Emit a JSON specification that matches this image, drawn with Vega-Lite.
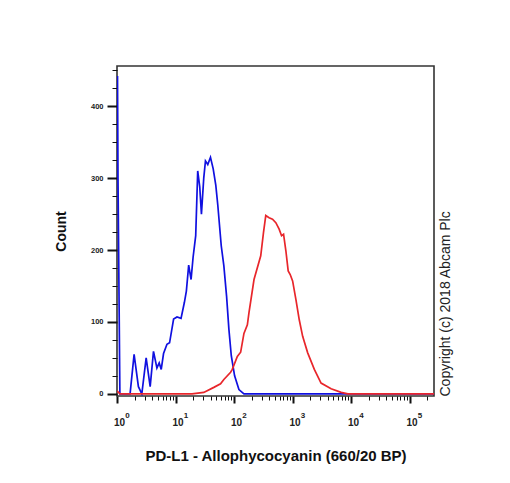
{
  "$schema": "https://vega.github.io/schema/vega-lite/v6.json",
  "width": 317,
  "height": 330,
  "autosize": "none",
  "padding": {"left": 117, "top": 66, "right": 76, "bottom": 87},
  "background": "white",
  "config": {
    "view": {"stroke": "#333333", "strokeWidth": 1.6},
    "font": "Liberation Sans"
  },
  "data": {
    "values": [
      {"series": "blue", "x": 1.02, "count": 442},
      {"series": "blue", "x": 1.04, "count": 300},
      {"series": "blue", "x": 1.12, "count": 0},
      {"series": "blue", "x": 1.283, "count": 0},
      {"series": "blue", "x": 1.673, "count": 0},
      {"series": "blue", "x": 1.96, "count": 55},
      {"series": "blue", "x": 2.323, "count": 10},
      {"series": "blue", "x": 2.657, "count": 0},
      {"series": "blue", "x": 3.15, "count": 50},
      {"series": "blue", "x": 3.69, "count": 10},
      {"series": "blue", "x": 4.205, "count": 59},
      {"series": "blue", "x": 4.81, "count": 36},
      {"series": "blue", "x": 5.268, "count": 43},
      {"series": "blue", "x": 5.702, "count": 34},
      {"series": "blue", "x": 6.245, "count": 56},
      {"series": "blue", "x": 7.145, "count": 69},
      {"series": "blue", "x": 7.916, "count": 71},
      {"series": "blue", "x": 9.277, "count": 104},
      {"series": "blue", "x": 10.61, "count": 107},
      {"series": "blue", "x": 12.43, "count": 105},
      {"series": "blue", "x": 14.17, "count": 127},
      {"series": "blue", "x": 15.33, "count": 143},
      {"series": "blue", "x": 16.8, "count": 179},
      {"series": "blue", "x": 18.46, "count": 159},
      {"series": "blue", "x": 19.98, "count": 190},
      {"series": "blue", "x": 22.15, "count": 220},
      {"series": "blue", "x": 23.97, "count": 310},
      {"series": "blue", "x": 25.95, "count": 288},
      {"series": "blue", "x": 27.75, "count": 250},
      {"series": "blue", "x": 30.39, "count": 300},
      {"series": "blue", "x": 32.51, "count": 324},
      {"series": "blue", "x": 35.6, "count": 319},
      {"series": "blue", "x": 39.62, "count": 329},
      {"series": "blue", "x": 44.09, "count": 313},
      {"series": "blue", "x": 48.87, "count": 290},
      {"series": "blue", "x": 52.9, "count": 262},
      {"series": "blue", "x": 60.5, "count": 206},
      {"series": "blue", "x": 67.08, "count": 178},
      {"series": "blue", "x": 74.64, "count": 136},
      {"series": "blue", "x": 81.75, "count": 90},
      {"series": "blue", "x": 89.86, "count": 53},
      {"series": "blue", "x": 102.4, "count": 25},
      {"series": "blue", "x": 121.4, "count": 6},
      {"series": "blue", "x": 147.9, "count": 0},
      {"series": "blue", "x": 1000, "count": 0},
      {"series": "blue", "x": 10000, "count": 0},
      {"series": "blue", "x": 262144, "count": 0},
      {"series": "red", "x": 1.0, "count": 4},
      {"series": "red", "x": 1.13, "count": 0},
      {"series": "red", "x": 19.2, "count": 0},
      {"series": "red", "x": 30.4, "count": 2},
      {"series": "red", "x": 45.2, "count": 9},
      {"series": "red", "x": 58.9, "count": 14},
      {"series": "red", "x": 67.1, "count": 20},
      {"series": "red", "x": 87.4, "count": 30},
      {"series": "red", "x": 93.5, "count": 34},
      {"series": "red", "x": 114, "count": 52},
      {"series": "red", "x": 129.9, "count": 58},
      {"series": "red", "x": 147.9, "count": 84},
      {"series": "red", "x": 169.2, "count": 96},
      {"series": "red", "x": 180.3, "count": 113},
      {"series": "red", "x": 219.8, "count": 159},
      {"series": "red", "x": 286.4, "count": 192},
      {"series": "red", "x": 318.6, "count": 224},
      {"series": "red", "x": 349.1, "count": 248},
      {"series": "red", "x": 397.9, "count": 245},
      {"series": "red", "x": 455, "count": 243},
      {"series": "red", "x": 518.6, "count": 238},
      {"series": "red", "x": 590.9, "count": 229},
      {"series": "red", "x": 649.6, "count": 220},
      {"series": "red", "x": 703.3, "count": 222},
      {"series": "red", "x": 770.2, "count": 199},
      {"series": "red", "x": 843.8, "count": 171},
      {"series": "red", "x": 912.9, "count": 166},
      {"series": "red", "x": 1004, "count": 157},
      {"series": "red", "x": 1144, "count": 131},
      {"series": "red", "x": 1304, "count": 103},
      {"series": "red", "x": 1491, "count": 80},
      {"series": "red", "x": 1818, "count": 57},
      {"series": "red", "x": 2360, "count": 34},
      {"series": "red", "x": 3076, "count": 15},
      {"series": "red", "x": 4568, "count": 7},
      {"series": "red", "x": 6784, "count": 2},
      {"series": "red", "x": 8846, "count": 0},
      {"series": "red", "x": 262144, "count": 0}
    ]
  },
  "encoding": {
    "y": {
      "field": "count",
      "type": "quantitative",
      "scale": {"domain": [-3, 456], "nice": false, "zero": false}
    },
    "color": {
      "field": "series",
      "type": "nominal",
      "scale": {"domain": ["blue", "red"], "range": ["#1010e0", "#e8262b"]},
      "legend": null
    }
  },
  "layer": [
    {
      "transform": [{"filter": "datum.series == 'blue'"}],
      "mark": {"type": "line", "strokeWidth": 1.7, "interpolate": "linear", "clip": true},
      "encoding": {
        "x": {
          "field": "x",
          "type": "quantitative",
          "scale": {"type": "log", "domain": [1, 262144], "nice": false},
          "axis": {
            "orient": "bottom",
            "title": "PD-L1 - Allophycocyanin (660/20 BP)",
            "titleFontSize": 15,
            "titleFontWeight": "bold",
            "titleColor": "#111111",
            "titlePadding": 21,
            "domain": false,
            "grid": false,
            "values": [1,2,3,4,5,6,7,8,9,10,20,30,40,50,60,70,80,90,100,200,300,400,500,600,700,800,900,1000,2000,3000,4000,5000,6000,7000,8000,9000,10000,20000,30000,40000,50000,60000,70000,80000,90000,100000,200000],
            "labelExpr": "indexof([1,10,100,1000,10000,100000], datum.value) >= 0 ? '10' : ''",
            "labelFontSize": 10,
            "labelFontWeight": "bold",
            "labelColor": "#222222",
            "labelAlign": "center",
            "labelBaseline": "top",
            "labelPadding": 14,
            "labelOffset": 2,
            "labelFlush": false,
            "labelOverlap": false,
            "tickColor": "#111111",
            "tickSize": {"condition": {"test": "indexof([1,10,100,1000,10000,100000], datum.value) >= 0", "value": 7}, "value": 4},
            "tickWidth": {"condition": {"test": "indexof([1,10,100,1000,10000,100000], datum.value) >= 0", "value": 2}, "value": 1}
          }
        },
        "y": {
          "field": "count",
          "type": "quantitative",
          "axis": {
            "orient": "left",
            "title": "Count",
            "titleFontSize": 14,
            "titleFontWeight": "bold",
            "titleColor": "#111111",
            "titlePadding": 22,
            "domain": false,
            "grid": false,
            "values": [0,25,50,75,100,125,150,175,200,225,250,275,300,325,350,375,400,425,450],
            "labelExpr": "datum.value % 100 == 0 ? datum.label : ''",
            "labelFontSize": 7.5,
            "labelFontWeight": "bold",
            "labelColor": "#222222",
            "labelPadding": 4,
            "tickColor": "#111111",
            "tickSize": {"condition": {"test": "datum.value % 100 == 0", "value": 10}, "value": 5},
            "tickWidth": {"condition": {"test": "datum.value % 100 == 0", "value": 2}, "value": 1}
          }
        }
      }
    },
    {
      "transform": [{"filter": "datum.series == 'red'"}],
      "mark": {"type": "line", "strokeWidth": 1.7, "interpolate": "linear", "clip": true},
      "encoding": {
        "x": {
          "field": "x",
          "type": "quantitative",
          "axis": {
            "orient": "bottom",
            "title": null,
            "domain": false,
            "grid": false,
            "ticks": false,
            "tickSize": 0,
            "values": [1, 10, 100, 1000, 10000, 100000],
            "labelExpr": "datum.value == 1 ? '0' : datum.value == 10 ? '1' : datum.value == 100 ? '2' : datum.value == 1000 ? '3' : datum.value == 10000 ? '4' : '5'",
            "labelFontSize": 8,
            "labelFontWeight": "bold",
            "labelColor": "#222222",
            "labelAlign": "center",
            "labelBaseline": "top",
            "labelPadding": 15,
            "labelOffset": 10,
            "labelFlush": false,
            "labelOverlap": false
          }
        },
        "y": {
          "field": "count",
          "type": "quantitative",
          "axis": {
            "orient": "right",
            "title": "Copyright (c) 2018 Abcam Plc",
            "titleFontSize": 14,
            "titleFontWeight": "normal",
            "titleColor": "#222222",
            "titleAngle": 270,
            "titleAnchor": "start",
            "titlePadding": 18,
            "labels": false,
            "ticks": false,
            "domain": false,
            "grid": false
          }
        }
      }
    }
  ],
  "resolve": {"axis": {"x": "independent", "y": "independent"}}
}
